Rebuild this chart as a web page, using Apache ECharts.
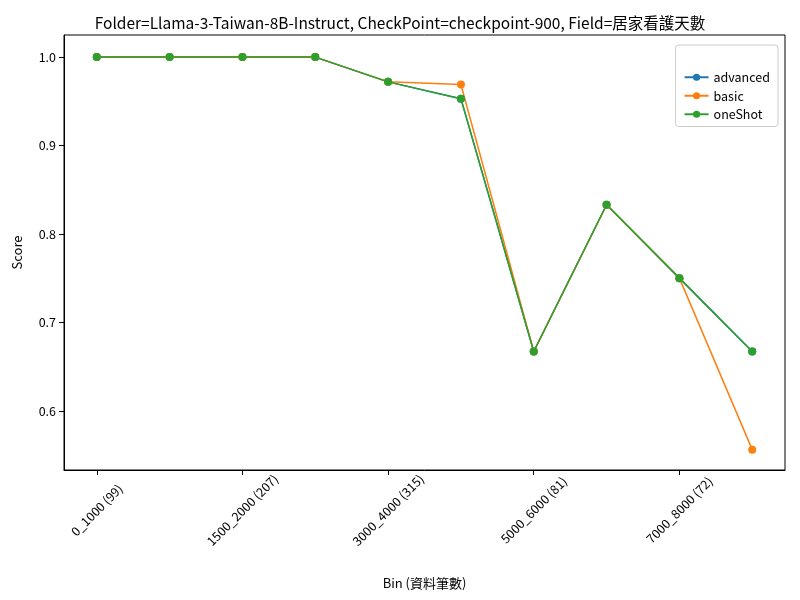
<!DOCTYPE html>
<html lang="en">
<head>
  <meta charset="UTF-8">
  <title>Score by bin</title>
  <script src="https://cdn.jsdelivr.net/npm/echarts@6/dist/echarts.min.js"></script>
</head>
<body style="margin:0">
<div id="main" style="width:800px;height:600px;"></div>
<script type="text/javascript">
    var bins = ['0_1000 (99)', '1000_1500', '1500_2000 (207)', '2000_3000', '3000_4000 (315)',
        '4000_5000', '5000_6000 (81)', '6000_7000', '7000_8000 (72)', '8000_9000'];
    var advanced = [1, 1, 1, 1, 0.972, 0.953, 0.667, 0.833, 0.75, 0.667];
    var basic = [1, 1, 1, 1, 0.972, 0.969, 0.667, 0.833, 0.75, 0.556];
    var oneShot = [1, 1, 1, 1, 0.972, 0.953, 0.667, 0.833, 0.75, 0.667];
    var font = '"Noto Sans CJK TC", "DejaVu Sans", sans-serif';

    function pts(arr) {
        return arr.map(function (v, i) { return [i, v]; });
    }
    function line(name, arr, color) {
        return {
            name: name, type: 'line', data: pts(arr), symbol: 'circle', symbolSize: 8,
            lineStyle: { color: color, width: 1.5 }, itemStyle: { color: color }
        };
    }

    var myChart = echarts.init(document.getElementById('main'));
    myChart.setOption({
        animation: false,
        textStyle: { fontFamily: font },
        title: {
            text: 'Folder=Llama-3-Taiwan-8B-Instruct, CheckPoint=checkpoint-900, Field=居家看護天數',
            left: 'center', top: 10,
            textStyle: { fontSize: 15.5, fontWeight: 'normal', color: '#000', fontFamily: font }
        },
        legend: {
            right: 22, top: 45, orient: 'vertical', itemWidth: 24, itemHeight: 9,
            data: ['advanced', 'basic', 'oneShot'],
            textStyle: { fontSize: 12.5, color: '#000' },
            backgroundColor: '#fff', borderColor: '#ccc', borderWidth: 1, borderRadius: 3,
            padding: [26, 8, 6, 8], itemGap: 6
        },
        graphic: [{
            type: 'text', right: 45, top: 49,
            style: { text: 'Method', fontSize: 12.5, fill: '#000', fontFamily: font }
        }],
        grid: { left: 64, right: 15, top: 35, bottom: 130, show: true, borderColor: '#000', borderWidth: 1 },
        xAxis: {
            type: 'value', min: -0.45, max: 9.45, interval: 1,
            name: 'Bin (資料筆數)', nameLocation: 'middle', nameGap: 107,
            nameTextStyle: { fontSize: 13, color: '#000' },
            splitLine: { show: false },
            axisLine: { onZero: false, lineStyle: { color: '#000' } },
            axisTick: { show: true, lineStyle: { color: '#000' },
                customValues: [0, 2, 4, 6, 8] },
            axisLabel: {
                rotate: 45, color: '#000', fontSize: 12.5, margin: 40,
                align: 'center', verticalAlign: 'middle', hideOverlap: false,
                customValues: [0, 2, 4, 6, 8],
                formatter: function (v) { return bins[v] || ''; }
            }
        },
        yAxis: {
            type: 'value', min: 0.533, max: 1.025,
            name: 'Score', nameLocation: 'middle', nameGap: 40,
            nameTextStyle: { fontSize: 13, color: '#000' },
            splitLine: { show: false },
            axisLine: { show: true, onZero: false, lineStyle: { color: '#000' } },
            axisTick: { show: true, lineStyle: { color: '#000' },
                customValues: [0.6, 0.7, 0.8, 0.9, 1.0] },
            axisLabel: { color: '#000', fontSize: 12.5,
                customValues: [0.6, 0.7, 0.8, 0.9, 1.0],
                formatter: function (v) { return v.toFixed(1); } }
        },
        series: [
            line('advanced', advanced, '#1f77b4'),
            line('basic', basic, '#ff7f0e'),
            line('oneShot', oneShot, '#2ca02c')
        ]
    });
</script>
</body>
</html>
